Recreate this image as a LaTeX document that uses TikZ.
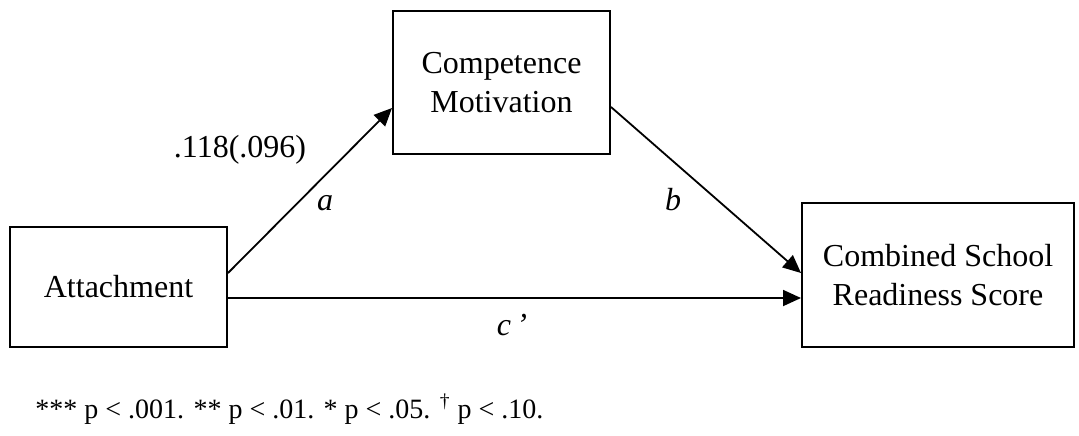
\documentclass[tikz,border=0pt]{standalone}
\usepackage{fontspec}
\setmainfont{Liberation Serif}
\usetikzlibrary{positioning,arrows.meta}

\begin{document}
\begin{tikzpicture}[x=0.5pt, y=-0.5pt,
  every node/.style={font=\fontsize{16}{19.5}\selectfont},
  varbox/.style={draw, line width=1pt, align=center, inner sep=0pt},
  path/.style={line width=0.9pt, -{Triangle[length=9pt,width=8pt]}}]
\useasboundingbox (0,0) rectangle (1079,435);
\node[varbox, minimum width=108.5pt, minimum height=60pt] (att) at (118.5,287) {Attachment};
\node[varbox, minimum width=108.5pt, minimum height=71.5pt] (comp) at (501.5,82.5) {Competence\\ Motivation};
\node[varbox, minimum width=136pt, minimum height=72pt] (comb) at (938,275) {Combined School\\ Readiness Score};
\draw[path] ([yshift=7pt]att.east) -- ([yshift=-12.75pt]comp.west);
\draw[path] ([yshift=-12.25pt]comp.east) -- ([yshift=1pt]comb.west);
\draw[path] ([yshift=-5.5pt]att.east) -- ([yshift=-5.5pt]att.east -| comb.west);
% path labels
\node[anchor=base] (coefa) at (240,157) {.118(.096)};
\node[anchor=base] (lbla) at (325,210) {\textit{a}};
\node[anchor=base] (lblb) at (673,210) {\textit{b}};
\node[anchor=base] (lblc) at (512,335) {\textit{c\,’}};
\node[anchor=base west, inner sep=0pt, font=\fontsize{14}{17}\selectfont] (note) at (35,418) {*** p < .001. ** p < .01. * p < .05. \textsuperscript{†} p < .10.};
\end{tikzpicture}
\end{document}
